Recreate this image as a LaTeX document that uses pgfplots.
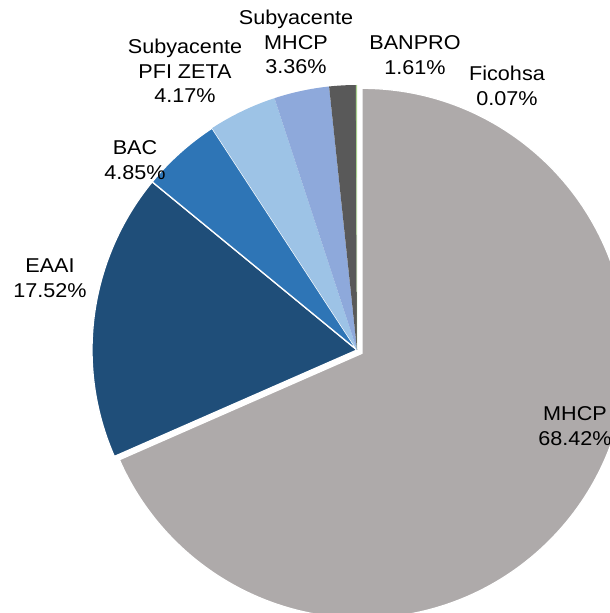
\documentclass[border=0pt]{standalone}
\usepackage{pgfplots}
\usepackage{pgfplotstable}
\pgfplotsset{compat=1.18}
\usepackage{fontspec}
\setmainfont{Liberation Sans}[FakeStretch=1.08]
\usetikzlibrary{calc}
\definecolor{cMHCP}{HTML}{AEAAAA}
\definecolor{cEAAI}{HTML}{1F4E79}
\definecolor{cBAC}{HTML}{2E75B6}
\definecolor{cPFI}{HTML}{9DC3E6}
\definecolor{cSUB}{HTML}{8EA9DB}
\definecolor{cBAN}{HTML}{595959}
\definecolor{cFIC}{HTML}{A9D18E}
\pgfplotstableread{
label value
MHCP 68.42
EAAI 17.52
BAC 4.85
PFIZETA 4.17
SubMHCP 3.36
BANPRO 1.61
Ficohsa 0.07
}\piedata
\def\cum{0}
\foreach \i/\n in {0/A,1/B,2/C,3/D,4/E,5/F,6/G}{
  \pgfplotstablegetelem{\i}{value}\of\piedata
  \pgfmathsetmacro\s{90-3.6*\cum}
  \pgfmathsetmacro\e{90-3.6*(\cum+\pgfplotsretval)}
  \pgfmathsetmacro\m{(\s+\e)/2}
  \expandafter\xdef\csname ps\n\endcsname{\s}
  \expandafter\xdef\csname pe\n\endcsname{\e}
  \expandafter\xdef\csname pm\n\endcsname{\m}
  \pgfmathsetmacro\newcum{\cum+\pgfplotsretval}
  \xdef\cum{\newcum}
}
\begin{document}
\begin{tikzpicture}
\begin{axis}[
  at={(0,0)}, anchor=south west,
  scale only axis, width=610pt, height=613pt,
  xmin=0, xmax=610, ymin=0, ymax=613,
  hide axis, clip=true, clip bounding box=upper bound,
]
\filldraw[fill=cMHCP, draw=white, line width=1.3pt, line join=round]
  ($(axis cs:357,263)+(\pmA:6pt)$) -- ++(\psA:265pt)
  arc[start angle=\psA, end angle=\peA, radius=265pt] -- cycle;
\filldraw[fill=cEAAI, draw=white, line width=1.3pt, line join=round]
  (axis cs:357,263) -- ++(\psB:265pt)
  arc[start angle=\psB, end angle=\peB, radius=265pt] -- cycle;
\filldraw[fill=cBAC, draw=white, line width=1.3pt, line join=round]
  (axis cs:357,263) -- ++(\psC:265pt)
  arc[start angle=\psC, end angle=\peC, radius=265pt] -- cycle;
\fill[cPFI]
  (axis cs:357,263) -- ++(\psD:265pt)
  arc[start angle=\psD, end angle=\peD, radius=265pt] -- cycle;
\fill[cSUB]
  (axis cs:357,263) -- ++(\psE:265pt)
  arc[start angle=\psE, end angle=\peE, radius=265pt] -- cycle;
\fill[cBAN]
  (axis cs:357,263) -- ++(\psF:265pt)
  arc[start angle=\psF, end angle=\peF, radius=265pt] -- cycle;
\fill[cFIC]
  (axis cs:357,263) -- ++(\psG:265pt)
  arc[start angle=\psG, end angle=\peG, radius=265pt] -- cycle;
\node[align=center, font=\fontsize{20}{24.5}\selectfont, inner sep=0pt] at (axis cs:296,571) {Subyacente\\MHCP\\3.36\%};
\node[align=center, font=\fontsize{20}{24.5}\selectfont, inner sep=0pt] at (axis cs:185,542) {Subyacente\\PFI ZETA\\4.17\%};
\node[align=center, font=\fontsize{20}{24.5}\selectfont, inner sep=0pt] at (axis cs:135,453) {BAC\\4.85\%};
\node[align=center, font=\fontsize{20}{24.5}\selectfont, inner sep=0pt] at (axis cs:50,335) {EAAI\\17.52\%};
\node[align=center, font=\fontsize{20}{24.5}\selectfont, inner sep=0pt] at (axis cs:415,558) {BANPRO\\1.61\%};
\node[align=center, font=\fontsize{20}{24.5}\selectfont, inner sep=0pt] at (axis cs:507,527) {Ficohsa\\0.07\%};
\node[align=center, font=\fontsize{20}{24.5}\selectfont, inner sep=0pt] at (axis cs:575,187) {MHCP\\68.42\%};
\end{axis}
\pgfresetboundingbox
\path (current axis.south west) rectangle (current axis.north east);
\end{tikzpicture}
\end{document}
